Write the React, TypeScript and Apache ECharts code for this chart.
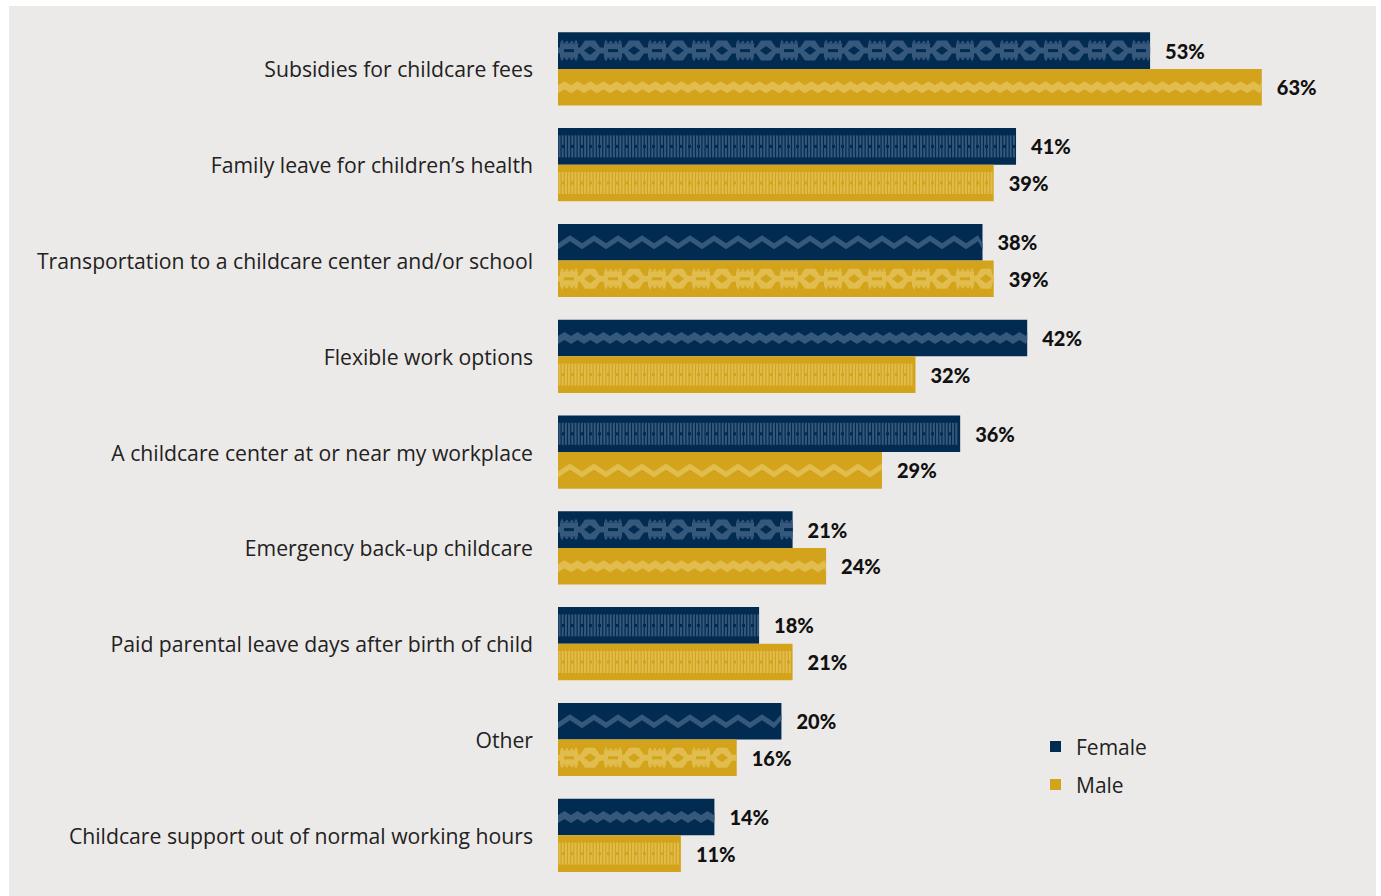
import { useEffect, useRef } from 'react';
import * as echarts from 'echarts';

const categories = [
  'Subsidies for childcare fees',
  'Family leave for children’s health',
  'Transportation to a childcare center and/or school',
  'Flexible work options',
  'A childcare center at or near my workplace',
  'Emergency back-up childcare',
  'Paid parental leave days after birth of child',
  'Other',
  'Childcare support out of normal working hours',
];
const femaleValues = [53, 41, 38, 42, 36, 21, 18, 20, 14];
const maleValues = [63, 39, 39, 32, 29, 24, 21, 16, 11];
const seriesNames = ['Female', 'Male'];
const femalePatterns = ['diamond', 'stripes', 'zigzag', 'wave', 'stripes', 'diamond', 'stripes', 'zigzag', 'wave'];
const malePatterns = ['wave', 'stripes', 'diamond', 'stripes', 'zigzag', 'wave', 'stripes', 'diamond', 'stripes'];

const NAVY = '#022B52';
const NAVY_LIGHT = '#36597B';
const GOLD = '#D3A41B';
const GOLD_LIGHT = '#E1BC4E';
const BAR_H = 36.6;

function clampX(x: number, x0: number, x1: number) {
  return Math.max(x0, Math.min(x1, x));
}

function poly(pts: number[][], x0: number, x1: number, fill: string) {
  return {
    type: 'polygon',
    shape: { points: pts.map((p) => [clampX(p[0], x0, x1), p[1]]) },
    style: { fill },
  };
}

function rect(x: number, y: number, w: number, h: number, x0: number, x1: number, fill: string, opacity = 1) {
  const a = clampX(x, x0, x1);
  const b = clampX(x + w, x0, x1);
  return { type: 'rect', shape: { x: a, y, width: Math.max(0, b - a), height: h }, style: { fill, opacity } };
}

function zigzag(x0: number, x1: number, yc: number, period: number, amp: number, thick: number, fill: string) {
  const top: number[][] = [];
  const bot: number[][] = [];
  const half = period / 2;
  let k = 0;
  for (let x = x0; x <= x1 + half; x += half, k++) {
    const off = k % 2 === 0 ? amp / 2 : -amp / 2;
    top.push([x, yc + off - thick / 2]);
    bot.push([x, yc + off + thick / 2]);
  }
  return [poly(top.concat(bot.reverse()), x0, x1, fill)];
}

function diamonds(x0: number, x1: number, yc: number, light: string, dark: string) {
  const els: any[] = [];
  const P = 44;
  els.push(rect(x0, yc - 3, x1 - x0, 6, x0, x1, light));
  for (let u = x0; u < x1; u += P) {
    els.push(rect(u + 2, yc - 7, 18, 14, x0, x1, light));
    els.push(poly([[u + 2, yc - 7], [u + 4, yc - 11], [u + 6, yc - 7], [u + 9, yc - 10], [u + 11, yc - 7], [u + 14, yc - 10], [u + 16, yc - 7], [u + 18, yc - 11], [u + 20, yc - 7]], x0, x1, light));
    els.push(poly([[u + 2, yc + 7], [u + 4, yc + 11], [u + 6, yc + 7], [u + 9, yc + 10], [u + 11, yc + 7], [u + 14, yc + 10], [u + 16, yc + 7], [u + 18, yc + 11], [u + 20, yc + 7]], x0, x1, light));
    els.push(rect(u + 6, yc - 1.5, 10, 3, x0, x1, dark));
    els.push(poly([[u + 20, yc], [u + 27, yc - 10], [u + 37, yc - 10], [u + 44, yc], [u + 37, yc + 10], [u + 27, yc + 10]], x0, x1, light));
    els.push(poly([[u + 26, yc], [u + 32, yc - 4.5], [u + 38, yc], [u + 32, yc + 4.5]], x0, x1, dark));
  }
  return els;
}

function stripes(x0: number, x1: number, yc: number, light: string, dark: string) {
  const els: any[] = [];
  for (let x = x0 + 0.5; x + 2 <= x1; x += 3.2) {
    els.push(rect(x, yc - 11, 2, 22, x0, x1, light));
  }
  for (let x = x0 + 4; x + 3 <= x1; x += 9) {
    els.push(rect(x, yc - 1.5, 3, 3, x0, x1, dark));
  }
  return els;
}

function buildPattern(kind: string, x0: number, x1: number, y0: number, h: number, light: string, dark: string) {
  const yc = y0 + h / 2;
  if (kind === 'zigzag') return zigzag(x0, x1, yc, 24, 8, 6, light);
  if (kind === 'wave') return zigzag(x0, x1, yc, 13, 4, 8, light);
  if (kind === 'diamond') return diamonds(x0, x1, yc, light, dark);
  return stripes(x0, x1, yc, light, dark);
}

function overlay(name: string, values: number[], patterns: string[], side: number, light: string, dark: string) {
  return {
    type: 'custom',
    name: name + ' pattern',
    silent: true,
    z: 3,
    data: values.map((v, i) => [v, i]),
    encode: { x: 0, y: 1 },
    renderItem: (params: any, api: any) => {
      const v = api.value(0);
      const c = api.value(1);
      const end = api.coord([v, c]);
      const start = api.coord([0, c]);
      const y0 = side < 0 ? end[1] - BAR_H : end[1];
      const children = buildPattern(patterns[params.dataIndex], start[0], end[0], y0, BAR_H, light, dark);
      return { type: 'group', children };
    },
  };
}

const labelStyle = {
  show: true,
  position: 'right',
  distance: 15,
  formatter: '{c}%',
  fontFamily: 'Lato',
  fontWeight: 900,
  fontSize: 20,
  color: '#111111',
};

export default function App() {
  const ref = useRef<HTMLDivElement>(null);
  useEffect(() => {
    const chart = echarts.init(ref.current!, null, { renderer: 'svg' });
    chart.setOption({
      animation: false,
      graphic: [
        {
          type: 'rect',
          z: -100,
          silent: true,
          shape: { x: 9, y: 6, width: 1367, height: 900 },
          style: { fill: '#ECEAE8' },
        },
      ],
      grid: { left: 558, right: 41, top: 21, height: 862.2, containLabel: false },
      legend: {
        data: seriesNames,
        orient: 'vertical',
        left: 1045,
        top: 731,
        itemGap: 17,
        itemWidth: 11,
        itemHeight: 11,
        icon: 'rect',
        textStyle: { fontSize: 21, color: '#222222', fontFamily: 'Open Sans', lineHeight: 21, padding: [0, 0, 0, 10] },
      },
      xAxis: { type: 'value', min: 0, max: 70, show: false },
      yAxis: {
        type: 'category',
        data: categories,
        inverse: true,
        axisLine: { show: false },
        axisTick: { show: false },
        axisLabel: { fontSize: 21.2, color: '#222222', margin: 25, fontFamily: 'Open Sans' },
      },
      series: [
        {
          type: 'bar',
          name: seriesNames[0],
          data: femaleValues,
          barWidth: BAR_H,
          barGap: '0%',
          itemStyle: { color: NAVY },
          label: labelStyle,
          z: 2,
        },
        {
          type: 'bar',
          name: seriesNames[1],
          data: maleValues,
          barWidth: BAR_H,
          barGap: '0%',
          itemStyle: { color: GOLD },
          label: labelStyle,
          z: 2,
        },
        overlay('Female', femaleValues, femalePatterns, -1, NAVY_LIGHT, NAVY),
        overlay('Male', maleValues, malePatterns, 1, GOLD_LIGHT, GOLD),
      ],
    });
    return () => chart.dispose();
  }, []);
  return <div ref={ref} style={{ position: 'absolute', left: 0, top: 0, width: 1381, height: 896 }} />;
}
